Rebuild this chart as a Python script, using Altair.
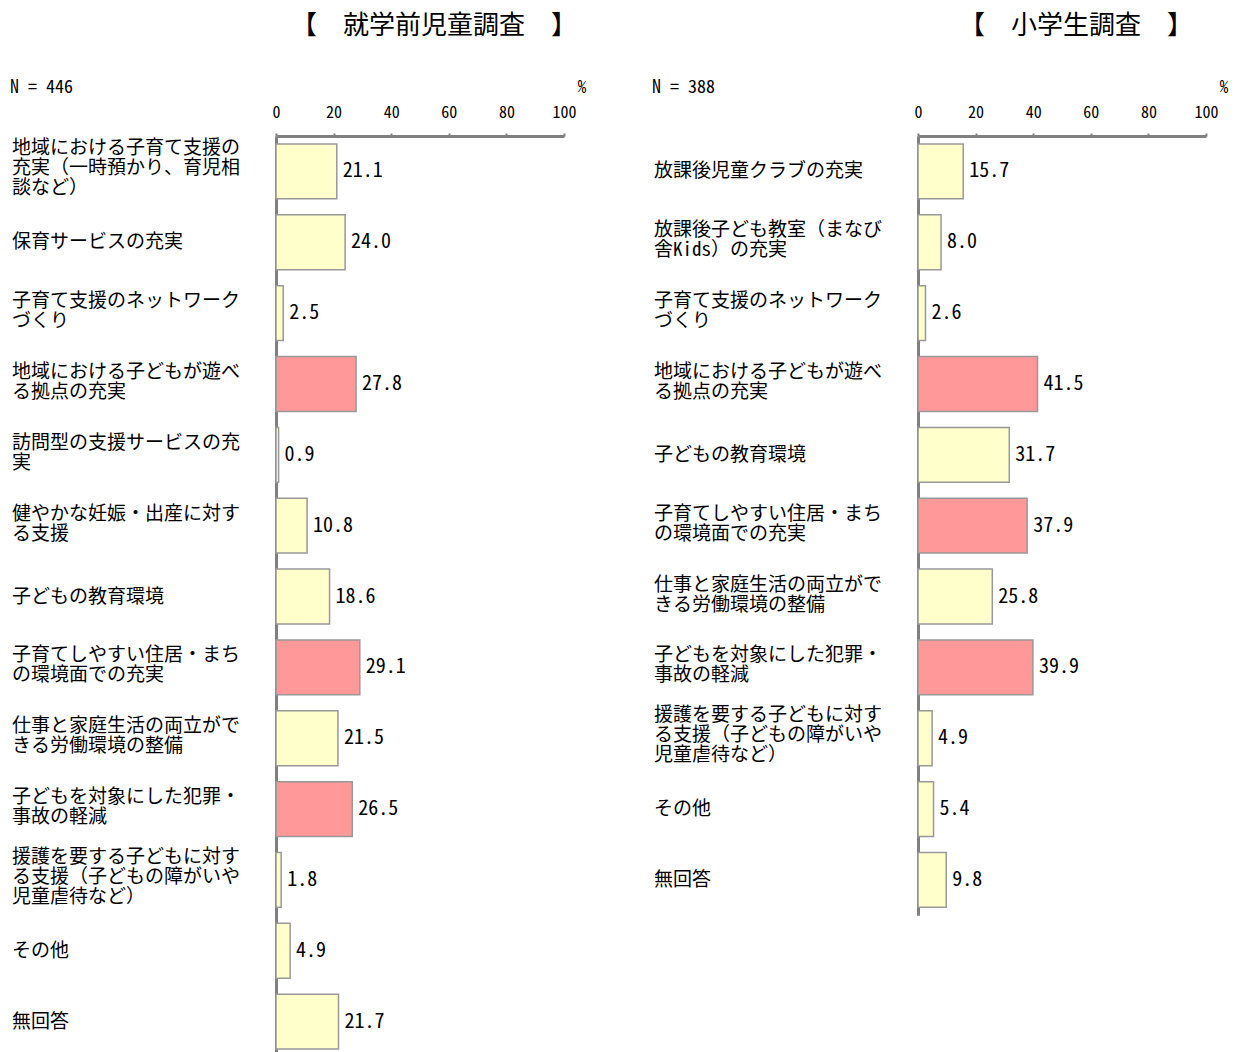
import altair as alt
import pandas as pd

FONT = "Noto Sans Mono CJK JP, Noto Sans CJK JP, monospace"

left_title = "【　就学前児童調査　】"
left_n = "N = 446"
left_labels = [
    "地域における子育て支援の\n充実（一時預かり、育児相\n談など）",
    "保育サービスの充実",
    "子育て支援のネットワーク\nづくり",
    "地域における子どもが遊べ\nる拠点の充実",
    "訪問型の支援サービスの充\n実",
    "健やかな妊娠・出産に対す\nる支援",
    "子どもの教育環境",
    "子育てしやすい住居・まち\nの環境面での充実",
    "仕事と家庭生活の両立がで\nきる労働環境の整備",
    "子どもを対象にした犯罪・\n事故の軽減",
    "援護を要する子どもに対す\nる支援（子どもの障がいや\n児童虐待など）",
    "その他",
    "無回答",
]
left_values = [21.1, 24.0, 2.5, 27.8, 0.9, 10.8, 18.6, 29.1, 21.5, 26.5, 1.8, 4.9, 21.7]

right_title = "【　小学生調査　】"
right_n = "N = 388"
right_labels = [
    "放課後児童クラブの充実",
    "放課後子ども教室（まなび\n舎Kids）の充実",
    "子育て支援のネットワーク\nづくり",
    "地域における子どもが遊べ\nる拠点の充実",
    "子どもの教育環境",
    "子育てしやすい住居・まち\nの環境面での充実",
    "仕事と家庭生活の両立がで\nきる労働環境の整備",
    "子どもを対象にした犯罪・\n事故の軽減",
    "援護を要する子どもに対す\nる支援（子どもの障がいや\n児童虐待など）",
    "その他",
    "無回答",
]
right_values = [15.7, 8.0, 2.6, 41.5, 31.7, 37.9, 25.8, 39.9, 4.9, 5.4, 9.8]

ticks = [0, 20, 40, 60, 80, 100]
STEP = 70.85
LINE_DY = {1: 0, 2: -12, 3: -23}


def panel(title, ntext, labels, values):
    df = pd.DataFrame({"label": labels, "value": values})
    top3 = sorted(values, reverse=True)[:3]
    df["hl"] = df["value"].apply(lambda v: "top" if v in top3 else "other")
    df["nl"] = df["label"].apply(lambda s: s.count("\n") + 1)
    n = len(labels)

    X = alt.X(
        "value:Q",
        scale=alt.Scale(domain=[0, 100]),
        axis=alt.Axis(
            orient="top", values=ticks, title=None, grid=False,
            domainColor="#808080", domainWidth=3,
            tickColor="#808080", tickSize=3, tickWidth=2,
            labelFontSize=16, labelFont=FONT, labelColor="#000000",
            labelPadding=13, labelFlush=False,
        ),
    )
    Y = alt.Y(
        "label:N", sort=labels,
        scale=alt.Scale(paddingInner=0.226, paddingOuter=0.113),
        axis=alt.Axis(labels=False, ticks=False, title=None, grid=False,
                      domainColor="#808080", domainWidth=3),
    )
    base = alt.Chart(df)
    bars = base.mark_bar(stroke="#999999", strokeWidth=1.5).encode(
        x=X, y=Y,
        color=alt.Color("hl:N", scale=alt.Scale(domain=["other", "top"],
                                                range=["#FFFFCC", "#FF9999"]),
                        legend=None),
    )
    vals = base.mark_text(align="left", baseline="middle", dx=6,
                          font=FONT, fontSize=20, color="#000000").encode(
        x=X, y=Y, text=alt.Text("value:Q", format=".1f"))
    cat_layers = []
    for k, dy in LINE_DY.items():
        cat_layers.append(
            base.transform_filter(alt.datum.nl == k).mark_text(
                align="left", baseline="middle", lineBreak="\n", dy=dy,
                font=FONT, fontSize=19, lineHeight=20, color="#000000",
            ).encode(x=alt.value(-264), y=Y, text="label:N")
        )

    hdr = pd.DataFrame({"t": [title]})
    ttl = alt.Chart(hdr).mark_text(align="center", baseline="middle", font=FONT,
                                   fontSize=26, color="#000000").encode(
        x=alt.value(158), y=alt.value(-110), text="t:N")
    ndf = pd.DataFrame({"t": [ntext]})
    ntx = alt.Chart(ndf).mark_text(align="left", baseline="middle", font=FONT,
                                   fontSize=18, color="#000000").encode(
        x=alt.value(-266), y=alt.value(-48), text="t:N")
    pdf = pd.DataFrame({"t": ["%"]})
    pct = alt.Chart(pdf).mark_text(align="center", baseline="middle", font=FONT,
                                   fontSize=17, color="#000000").encode(
        x=alt.value(306), y=alt.value(-48), text="t:N")

    return alt.layer(bars, vals, *cat_layers, ttl, ntx, pct).properties(
        width=288, height=STEP * n)


left = panel(left_title, left_n, left_labels, left_values)
right = panel(right_title, right_n, right_labels, right_values)

chart = alt.hconcat(left, right, spacing=354, bounds="flush").properties(
    padding={"left": 2, "top": 5, "right": 0, "bottom": 0}
).configure(background="white").configure_view(stroke=None)

chart.save("out.html", embed_options={"renderer": "svg", "actions": False})
